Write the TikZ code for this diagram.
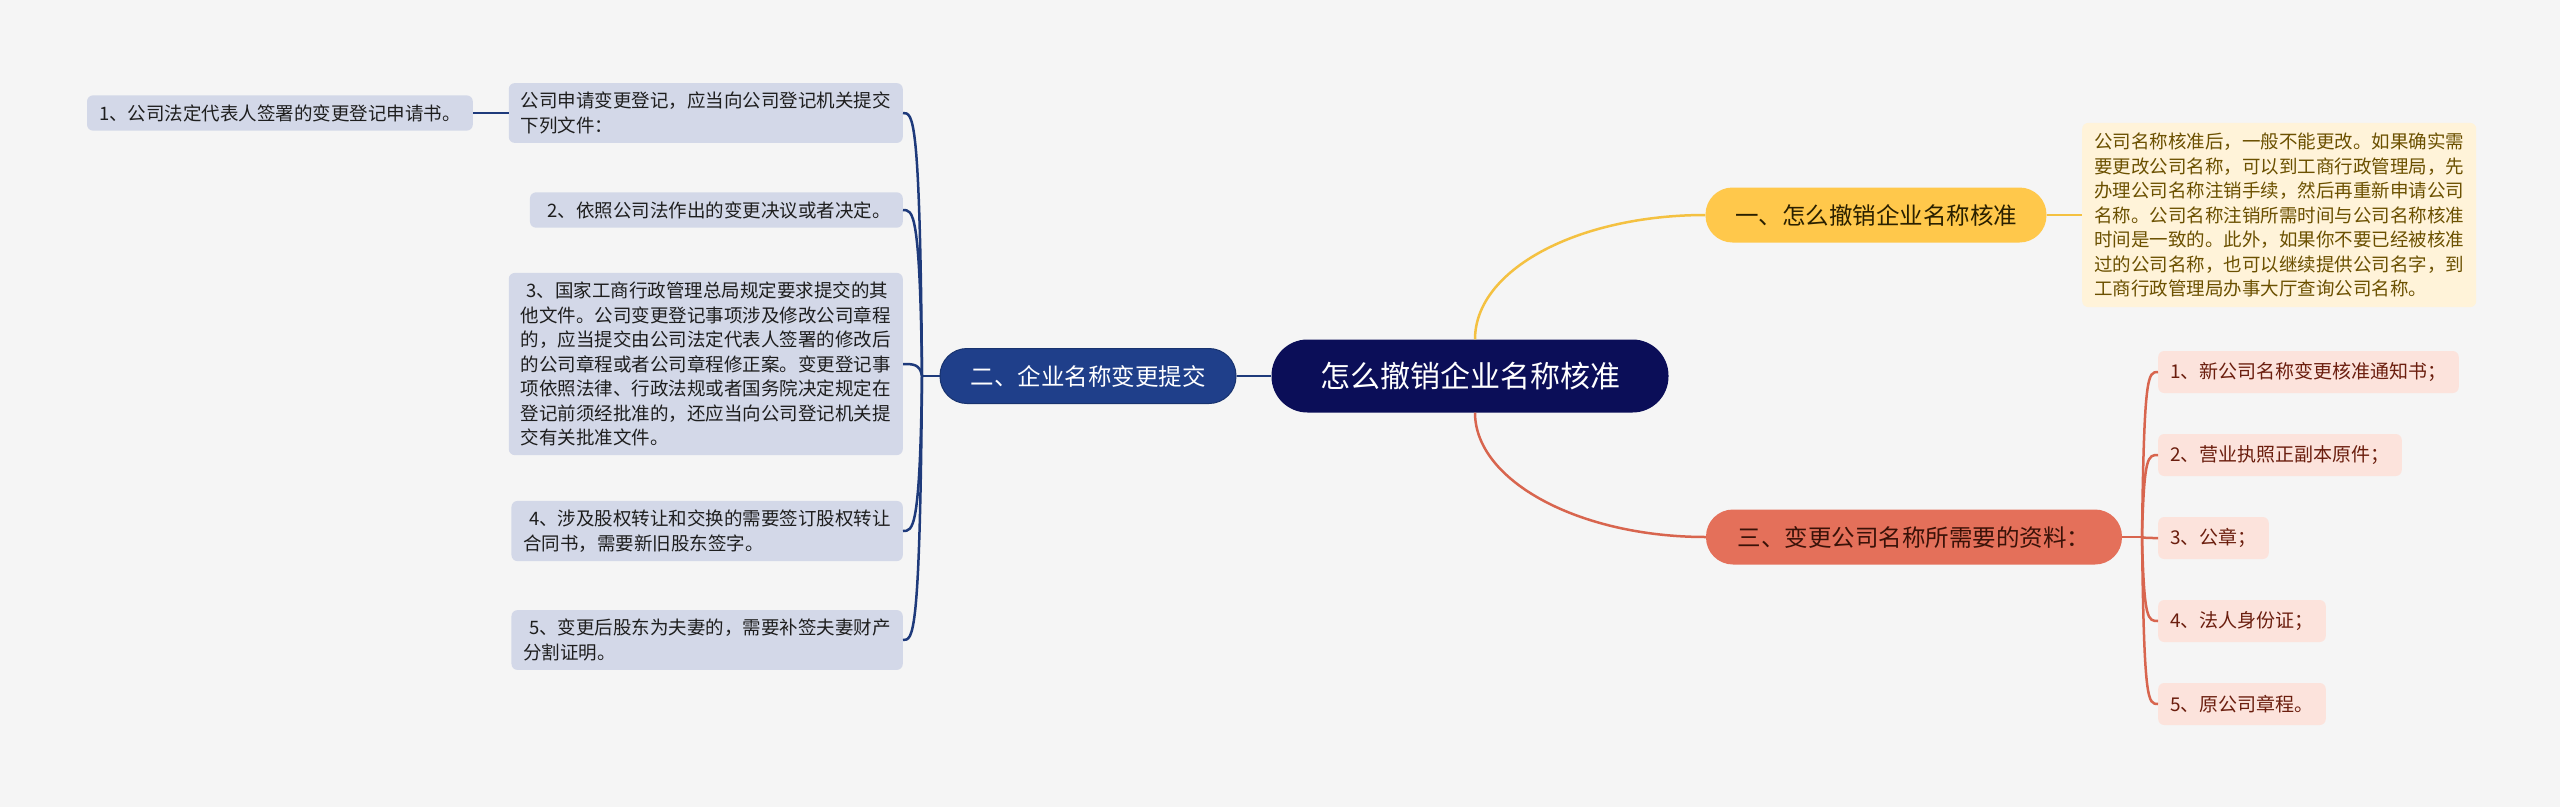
\documentclass[tikz,border=0pt]{standalone}
\usepackage{fontspec}
\setmainfont{Noto Sans CJK SC}
\usetikzlibrary{calc}
\definecolor{bg}{HTML}{F5F5F5}
\definecolor{rootc}{HTML}{0B0E58}
\definecolor{navyc}{HTML}{1F3F8A}
\definecolor{navyb}{HTML}{18336F}
\definecolor{navyl}{HTML}{1E3A7B}
\definecolor{lleaf}{HTML}{D3D8E8}
\definecolor{ltext}{HTML}{1E1E1E}
\definecolor{yelc}{HTML}{FFC84B}
\definecolor{yeltext}{HTML}{2A2000}
\definecolor{yline}{HTML}{F4C141}
\definecolor{ybox}{HTML}{FFF3D9}
\definecolor{yboxtext}{HTML}{6B5000}
\definecolor{redc}{HTML}{E4705A}
\definecolor{redtext}{HTML}{3A1208}
\definecolor{rline}{HTML}{D8654E}
\definecolor{rleaf}{HTML}{FCE3DC}
\definecolor{rleaftext}{HTML}{6B1E0E}
\begin{document}
\begin{tikzpicture}[x=1pt,y=-1pt,
  rootbox/.style={fill=rootc, rounded corners=36, minimum width=397, minimum height=73, text=white, font=\fontsize{30}{36}\selectfont, inner sep=0},
  maintopic/.style={rounded corners=27, minimum height=55, inner sep=0, font=\fontsize{23.5}{28}\selectfont},
  leftleaf/.style={fill=lleaf, rounded corners=6, text=ltext, align=left, inner xsep=12, inner ysep=9, font=\fontsize{18.5}{24.5}\selectfont, anchor=east},
  redleaf/.style={fill=rleaf, rounded corners=6, text=rleaftext, align=left, inner xsep=12, minimum height=42, font=\fontsize{19}{24}\selectfont, anchor=west},
  navyline/.style={draw=navyl, line width=2.5},
  yelline/.style={draw=yline, line width=2.5},
  redline/.style={draw=rline, line width=2.5}
]
\fill[bg] (0,0) rectangle (2560,807);
\useasboundingbox (0,0) rectangle (2560,807);

% central
\node[rootbox] (root) at (1470,376) {怎么撤销企业名称核准};

% main topics
\node[maintopic, fill=navyc, draw=navyb, line width=1, text=white, minimum width=296] (n2) at (1088,376) {二、企业名称变更提交};
\node[maintopic, fill=yelc, text=yeltext, minimum width=341] (n1) at (1876,215) {一、怎么撤销企业名称核准};
\node[maintopic, fill=redc, text=redtext, minimum width=416] (n3) at (1914,537) {三、变更公司名称所需要的资料：};

% yellow detail
\node[fill=ybox, rounded corners=6, text=yboxtext, align=left, inner xsep=12, inner ysep=10, font=\fontsize{18.5}{24.5}\selectfont, anchor=west] (yb) at (2082,215) {公司名称核准后，一般不能更改。如果确实需\\要更改公司名称，可以到工商行政管理局，先\\办理公司名称注销手续，然后再重新申请公司\\名称。公司名称注销所需时间与公司名称核准\\时间是一致的。此外，如果你不要已经被核准\\过的公司名称，也可以继续提供公司名字，到\\工商行政管理局办事大厅查询公司名称。};

% red leaves
\node[redleaf] (r1) at (2158,372) {1、新公司名称变更核准通知书；};
\node[redleaf] (r2) at (2158,455) {2、营业执照正副本原件；};
\node[redleaf] (r3) at (2158,538) {3、公章；};
\node[redleaf] (r4) at (2158,621) {4、法人身份证；};
\node[redleaf] (r5) at (2158,704) {5、原公司章程。};

% left leaves
\node[leftleaf] (lB) at (903,113) {公司申请变更登记，应当向公司登记机关提交\\下列文件：};
\node[leftleaf] (lA) at (473,113) {1、公司法定代表人签署的变更登记申请书。};
\node[leftleaf] (l2) at (903,210) {\hspace*{0.3em}2、依照公司法作出的变更决议或者决定。};
\node[leftleaf] (l3) at (903,364) {\hspace*{0.3em}3、国家工商行政管理总局规定要求提交的其\\他文件。公司变更登记事项涉及修改公司章程\\的，应当提交由公司法定代表人签署的修改后\\的公司章程或者公司章程修正案。变更登记事\\项依照法律、行政法规或者国务院决定规定在\\登记前须经批准的，还应当向公司登记机关提\\交有关批准文件。};
\node[leftleaf] (l4) at (903,531) {\hspace*{0.3em}4、涉及股权转让和交换的需要签订股权转让\\合同书，需要新旧股东签字。};
\node[leftleaf] (l5) at (903,640) {\hspace*{0.3em}5、变更后股东为夫妻的，需要补签夫妻财产\\分割证明。};

% connectors: root to main topics
\draw[navyline] (root.west) -- (n2.east);
\draw[yelline] ($(root.north)+(5,0)$) .. controls ($(root.north)+(5,-70)$) and ($(n1.west)+(-127,0)$) .. (n1.west);
\draw[redline] ($(root.south)+(5,0)$) .. controls ($(root.south)+(5,68)$) and ($(n3.west)+(-127,0)$) .. (n3.west);

% yellow
\draw[yelline] (n1.east) -- (yb.west);

% red branches
\coordinate (jr) at (2142,537);
\draw[redline] (n3.east) -- (jr);
\foreach \r in {r1,r2,r3,r4,r5}{
  \draw[redline] (jr) .. controls ($(jr |- \r.west)+(2,0)$) and ($(\r.west)+(-10,0)$) .. (\r.west);
}

% navy branches
\coordinate (jl) at (922,376);
\draw[navyline] (n2.west) -- (jl);
\foreach \l in {lB,l2,l3,l4,l5}{
  \draw[navyline] (jl) .. controls ($(jl |- \l.east)+(-2,0)$) and ($(\l.east)+(10,0)$) .. (\l.east);
}
\draw[navyline] (lA.east) -- (lB.west);
\end{tikzpicture}
\end{document}
